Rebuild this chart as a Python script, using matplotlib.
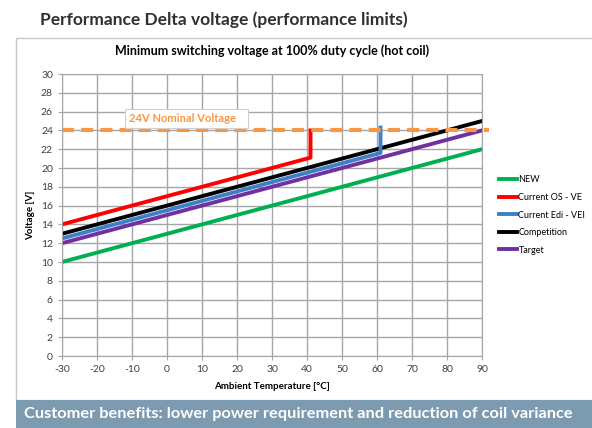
import matplotlib.pyplot as plt
from matplotlib.patches import Rectangle

plt.rcParams['font.family'] = ['Lato', 'DejaVu Sans']
plt.rcParams['axes.unicode_minus'] = False

# data
new_x = [-30, 90]
new_y = [10, 22]
os_x = [-30, 41, 41]
os_y = [14, 21.1, 24]
edi_x = [-30, 61, 61]
edi_y = [12.5, 21.6, 24.3]
comp_x = [-30, 90]
comp_y = [13, 25]
target_x = [-30, 90]
target_y = [12, 24]
nominal_x = [-30, 92]
nominal_v = 24

fig = plt.figure(figsize=(5.92, 4.28), dpi=100)
fig.patch.set_facecolor("white")

# outer chart box and bottom banner
fig.add_artist(Rectangle((16 / 592, 28 / 428), 1.0, 362 / 428, transform=fig.transFigure,
                         facecolor="white", edgecolor="#c8c8c8", lw=1, zorder=-10))
fig.add_artist(Rectangle((16 / 592, 0), 1.0, 28 / 428, transform=fig.transFigure,
                         facecolor="#7d9bb0", edgecolor="none", zorder=-10))
fig.text(24 / 592, 14 / 428, "Customer benefits: lower power requirement and reduction of coil variance",
         color="white", fontsize=11.8, fontweight="bold", va="center", ha="left")
fig.text(40 / 592, 408 / 428, "Performance Delta voltage (performance limits)",
         color="#303030", fontsize=12.5, fontweight="bold", va="center", ha="left")

ax = fig.add_axes([62 / 592, 72 / 428, 420 / 592, 282 / 428])
ax.set_xlim(-30, 90)
ax.set_ylim(0, 30)
ax.set_xticks(range(-30, 91, 10))
ax.set_yticks(range(0, 31, 2))
ax.grid(True, color="#a6a6a6", lw=1)
ax.set_axisbelow(True)
for key, spine in ax.spines.items():
    spine.set_color("#a6a6a6")
ax.tick_params(labelsize=7.5, colors="#404040", length=3, color="#a6a6a6")

ax.plot(new_x, new_y, color="#00b050", lw=2.8, label="NEW")
ax.plot(os_x, os_y, color="#ff0000", lw=2.8, label="Current OS - VE")
ax.plot(comp_x, comp_y, color="#000000", lw=2.8, label="Competition")
ax.plot(edi_x, edi_y, color="#3f7fc8", lw=2.8, label="Current Edi - VEI")
ax.plot(target_x, target_y, color="#7030a0", lw=2.8, label="Target")
ax.plot(nominal_x, [nominal_v, nominal_v], color="#f79646", lw=3, ls=(0, (2.9, 1.7)), clip_on=False)

ax.text(-10.8, 25.3, "24V Nominal Voltage   ", color="#f79646", fontsize=8, fontweight="bold",
        va="center", ha="left",
        bbox=dict(boxstyle="square,pad=0.35", facecolor="white", edgecolor="#d0d0d0", lw=0.8))

ax.set_title("Minimum switching voltage at 100% duty cycle (hot coil)", fontsize=9,
             fontweight="bold", pad=14)
ax.set_xlabel("Ambient Temperature [°C]", fontsize=7, fontweight="bold", labelpad=6)
ax.set_ylabel("Voltage [V]", fontsize=7, fontweight="bold", labelpad=4)

handles, labels = ax.get_legend_handles_labels()
order = [0, 1, 3, 2, 4]
ax.legend([handles[i] for i in order], [labels[i] for i in order],
          loc="center left", bbox_to_anchor=(1.02, 0.5), frameon=False, fontsize=6.5,
          handlelength=2.0, handletextpad=0.1, labelspacing=0.95, borderaxespad=0.6)

fig.savefig("out.png", dpi=100)
